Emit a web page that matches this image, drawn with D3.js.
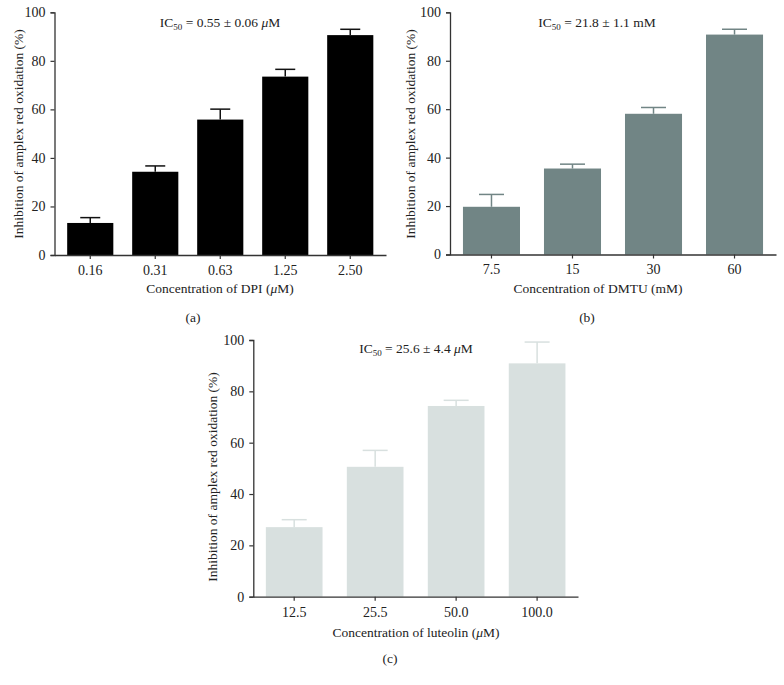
<!DOCTYPE html>
<html><head><meta charset="utf-8">
<script src="https://cdn.jsdelivr.net/npm/d3@7"></script>
<style>body{margin:0;background:#fff}svg text{font-family:"Liberation Serif","Times New Roman",serif;fill:#222}</style>
</head><body>
<svg id="c" width="784" height="685"></svg>
<script>
// Panel (a) DPI
const catsA = ["0.16","0.31","0.63","1.25","2.50"];
const valsA = [13.2, 34.3, 55.8, 73.5, 90.6];
const errA  = [2.2, 2.4, 4.3, 3.0, 2.4];
// Panel (b) DMTU
const catsB = ["7.5","15","30","60"];
const valsB = [19.7, 35.5, 58.1, 90.8];
const errB  = [5.1, 1.8, 2.6, 2.2];
// Panel (c) luteolin
const catsC = ["12.5","25.5","50.0","100.0"];
const valsC = [27.1, 50.6, 74.3, 90.9];
const errC  = [2.9, 6.4, 2.2, 8.3];
const yTicks = [0,20,40,60,80,100];
const yTitle = "Inhibition of amplex red oxidation (%)";

const svg = d3.select("#c");

function panel(o){
  const g = svg.append("g");
  const y = d3.scaleLinear().domain([0,100]).range([o.y0, o.y1]);
  const x = d3.scaleBand().domain(o.cats).range([o.x0, o.x1]).paddingInner(o.pi).paddingOuter(o.po);
  // bars
  g.selectAll("rect.bar").data(o.vals).enter().append("rect")
    .attr("x",(d,i)=>x(o.cats[i])).attr("width",x.bandwidth())
    .attr("y",d=>y(d)).attr("height",d=>y(0)-y(d)).attr("fill",o.color);
  // error bars
  o.vals.forEach((v,i)=>{
    const cx = x(o.cats[i]) + x.bandwidth()/2;
    g.append("line").attr("x1",cx).attr("x2",cx).attr("y1",y(v)).attr("y2",y(v+o.err[i]))
      .attr("stroke",o.ecolor).attr("stroke-width",1.5);
    g.append("line").attr("x1",cx-o.cap).attr("x2",cx+o.cap).attr("y1",y(v+o.err[i])).attr("y2",y(v+o.err[i]))
      .attr("stroke",o.ecolor).attr("stroke-width",1.5);
  });
  // y axis
  const ya = g.append("g").attr("transform",`translate(${o.x0},0)`)
    .call(d3.axisLeft(y).tickValues(yTicks).tickSize(4).tickPadding(5));
  ya.select(".domain").attr("stroke","#333").attr("stroke-width",1.3);
  ya.selectAll(".tick line").attr("stroke","#333").attr("stroke-width",1.2);
  ya.selectAll("text").attr("font-size",14).attr("fill","#222");
  // x axis
  const xa = g.append("g").attr("transform",`translate(0,${o.y0})`)
    .call(d3.axisBottom(x).tickSize(4).tickPadding(6).tickSizeOuter(0));
  xa.select(".domain").attr("stroke","#333").attr("stroke-width",1.3);
  xa.selectAll(".tick line").attr("stroke","#333").attr("stroke-width",1.2);
  xa.selectAll("text").attr("font-size",14).attr("fill","#222");
  // IC50
  const t = g.append("text").attr("x",o.icx).attr("y",o.icy).attr("text-anchor","middle").attr("font-size",13.5);
  t.append("tspan").text("IC");
  t.append("tspan").attr("font-size",9).attr("dy",3).text("50");
  t.append("tspan").attr("dy",-3).text(o.icText);
  if(o.icUnitItal){ t.append("tspan").attr("font-style","italic").text("\u03bc"); t.append("tspan").text("M"); }
  // x title
  const xt = g.append("text").attr("x",o.xtx).attr("y",o.xty).attr("text-anchor","middle").attr("font-size",13.5);
  xt.append("tspan").text(o.xTitle[0]);
  if(o.xTitle.length>1){ xt.append("tspan").attr("font-style","italic").text("\u03bc"); xt.append("tspan").text(o.xTitle[1]); }
  // label
  g.append("text").attr("x",o.lx).attr("y",o.ly).attr("text-anchor","middle").attr("font-size",13.5).text(o.label);
  // y title
  g.append("text").attr("transform",`translate(${o.ytx},${o.yty}) rotate(-90)`).attr("text-anchor","middle")
    .attr("dy","0.35em").attr("font-size",13.5).text(yTitle);
}

panel({cats:catsA, vals:valsA, err:errA, x0:54.5, x1:386, y0:255, y1:12.3, pi:0.29, po:0.195,
  color:"#000", ecolor:"#111", cap:10, icx:220, icy:27, icText:" = 0.55 \u00b1 0.06 ", icUnitItal:true,
  xTitle:["Concentration of DPI (", "M)"], xtx:220, xty:293, lx:193, ly:322, label:"(a)", ytx:18, yty:134});
panel({cats:catsB, vals:valsB, err:errB, x0:450, x1:776, y0:254.5, y1:12.3, pi:0.296, po:0.16,
  color:"#718585", ecolor:"#718585", cap:12.5, icx:597, icy:27, icText:" = 21.8 \u00b1 1.1 mM", icUnitItal:false,
  xTitle:["Concentration of DMTU (mM)"], xtx:598, xty:293, lx:587, ly:322, label:"(b)", ytx:410, yty:134});
panel({cats:catsC, vals:valsC, err:errC, x0:253.3, x1:578, y0:596.7, y1:340, pi:0.3, po:0.155,
  color:"#d8e0df", ecolor:"#d8e0df", cap:12.5, icx:416, icy:353, icText:" = 25.6 \u00b1 4.4 ", icUnitItal:true,
  xTitle:["Concentration of luteolin (", "M)"], xtx:416, xty:637, lx:390, ly:663, label:"(c)", ytx:212, yty:477});
</script>
</body></html>
